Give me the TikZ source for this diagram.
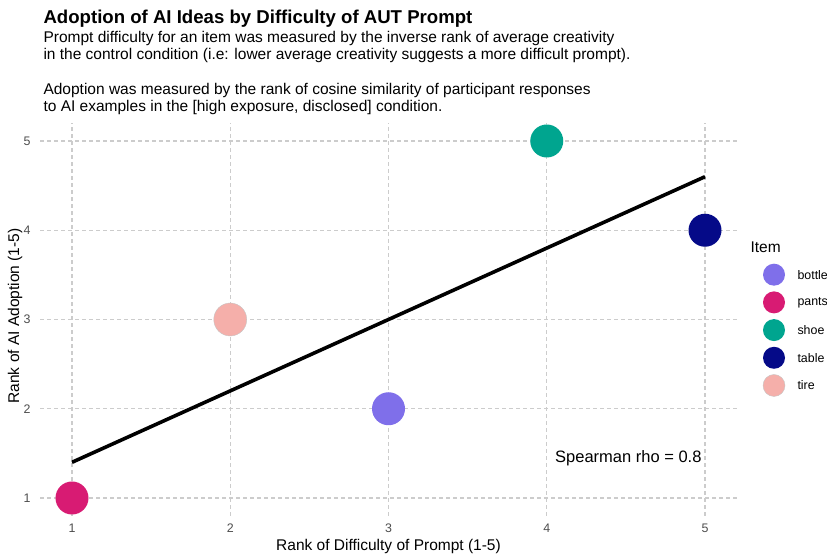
\documentclass[tikz,border=0pt]{standalone}
\usepackage{fontspec}
\setmainfont{Liberation Sans}
\definecolor{bottle}{HTML}{7F6FEA}
\definecolor{pants}{HTML}{D81B73}
\definecolor{shoe}{HTML}{00A58F}
\definecolor{table}{HTML}{050A88}
\definecolor{tire}{HTML}{F5AFAA}
\definecolor{gridgray}{HTML}{CCCCCC}
\definecolor{ticktext}{HTML}{4D4D4D}

\begin{document}
\begin{tikzpicture}[x=1pt,y=1pt,
   gridline/.style={gridgray,line width=1.1pt,dash pattern=on 4pt off 3pt},
   fitline/.style={black,line width=3.6pt},
   dot/.style={circle,inner sep=0pt,minimum size=33pt},
   keydot/.style={circle,inner sep=0pt,minimum size=22pt},
   ticklab/.style={text=ticktext,font=\fontsize{12.4}{14}\selectfont},
   axlab/.style={font=\fontsize{15.5}{18}\selectfont},
   sublab/.style={anchor=base west,font=\fontsize{15.5}{18}\selectfont}]
   \useasboundingbox (0,0) rectangle (827,556);
   % title and subtitle
   \node[anchor=base west,font=\bfseries\fontsize{18.6}{22}\selectfont] (title) at (40,532) {Adoption of AI Ideas by Difficulty of AUT Prompt};
   \node[sublab] (subA) at (40,513.5) {Prompt difficulty for an item was measured by the inverse rank of average creativity};
   \node[sublab] (subB) at (40,496) {in the control condition (i.e: lower average creativity suggests a more difficult prompt).};
   \node[sublab] (subC) at (40,461) {Adoption was measured by the rank of cosine similarity of participant responses};
   \node[sublab] (subD) at (40,444) {to AI examples in the [high exposure, disclosed] condition.};
   % panel in data units
   \begin{scope}[shift={(-86.25,-31.25)},x=158.25pt,y=89.25pt]
      \foreach \v in {1,...,5} {
         \draw[gridline] (\v,0.8) -- (\v,5.2);
         \draw[gridline] (0.8,\v) -- (5.2,\v);
         \node[ticklab] (xt\v) at (\v,0.664) {\v};
         \node[ticklab,anchor=east] (yt\v) at (0.76,\v) {\v};
      }
      \coordinate (fitA) at (1,1.4);
      \coordinate (fitB) at (5,4.6);
      \draw[fitline] (fitA) -- (fitB);
      \node[dot,fill=pants] (pants) at (1,1) {};
      \node[dot,fill=tire,draw=gray!45,line width=0.4pt] (tire) at (2,3) {};
      \node[dot,fill=bottle] (bottle) at (3,2) {};
      \node[dot,fill=shoe] (shoe) at (4,5) {};
      \node[dot,fill=table] (table) at (5,4) {};
      \node[anchor=east,font=\fontsize{16.5}{19}\selectfont] (rho) at (5,1.44) {Spearman rho = 0.8};
      \node[axlab] (xlab) at (3,0.46) {Rank of Difficulty of Prompt (1-5)};
   \end{scope}
   \node[axlab,rotate=90] (ylab) at (15,240) {Rank of AI Adoption (1-5)};
   % legend
   \node[axlab,anchor=west] (item) at (747,309) {Item};
   \foreach \name [count=\i] in {bottle,pants,shoe,table,tire} {
      \node[keydot,fill=\name] (key\i) at (774,309-27.7*\i) {};
      \node[anchor=west,font=\fontsize{12.4}{14}\selectfont] (keylab\i) at (794,309-27.7*\i) {\name};
   }
   \draw[gray!45,line width=0.4pt] (key5) circle (11pt);
  \end{tikzpicture}
\end{document}
